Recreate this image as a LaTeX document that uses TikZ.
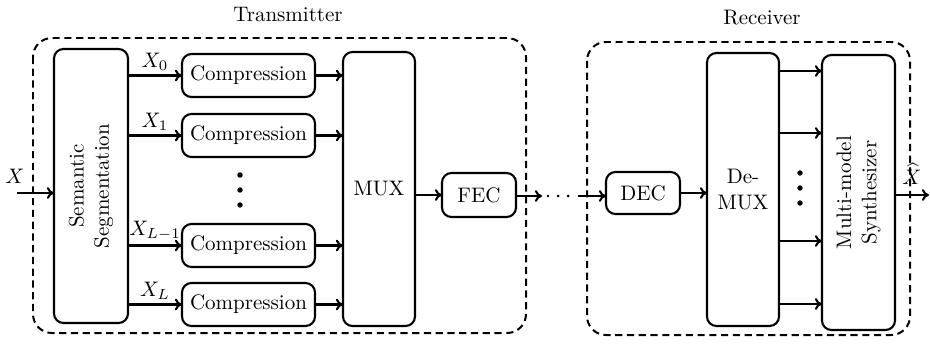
\documentclass[tikz,border=0pt]{standalone}
\usetikzlibrary{arrows.meta,calc}
\def\u{0.476pt}
\begin{document}
\begin{tikzpicture}[x=0.476pt,y=-0.476pt,
  every node/.style={inner sep=0pt, outer sep=0pt},
  blk/.style={draw, line width=1pt, rounded corners=4.5pt, align=center, font=\normalsize},
  grp/.style={draw, line width=0.95pt, dash pattern=on 3.4pt off 2.2pt, rounded corners=9pt},
  conn/.style={line width=1pt, -{To[length=3.4pt,width=5.6pt]}},
  dotc/.style={dash pattern=on 0pt off 4.8pt, line cap=round, line width=1.4pt},
  vdot/.style={fill, circle, minimum size=2.6pt}]
\useasboundingbox (0,0) rectangle (930,346);
% groups
\draw[grp] (33,38) rectangle (526,333);
\draw[grp] (587,42) rectangle (910,335);
\node (txt) at (288,15) {Transmitter};
\node (rxt) at (762,18) {Receiver};
% transmitter blocks
\node[blk, minimum width=74*\u, minimum height=274*\u] (seg) at (91,186) {};
\node[rotate=90, align=center] (segt) at (91,186) {Semantic\\Segmentation};
\foreach \i/\y in {0/75.5,1/135.5,2/245.5,3/304.5}{
  \node[blk, minimum width=133*\u, minimum height=43*\u] (c\i) at (248.5,\y) {Compression};
}
\node[blk, minimum width=72*\u, minimum height=274*\u] (mux) at (379,189) {MUX};
\node[blk, minimum width=74*\u, minimum height=44*\u] (fec) at (479,195) {FEC};
% receiver blocks
\node[blk, minimum width=74*\u, minimum height=42*\u] (dec) at (643,193) {DEC};
\node[blk, minimum width=72*\u, minimum height=273*\u] (demux) at (743,189.5) {De-\\MUX};
\node[blk, minimum width=73*\u, minimum height=275*\u] (syn) at (858.5,192.5) {};
\node[rotate=90, align=center] (synt) at (858.5,192.5) {Multi-model\\Synthesizer};
% input/output
\coordinate (xin) at (17,193);
\draw[conn] (xin) -- (seg.west |- xin);
\node (xl) at (15,176) {$X$};
\coordinate (xout) at (929,195);
\draw[conn] (syn.east |- xout) -- (xout);
\node (xh) at (912,174) {$\widehat{X}$};
% seg -> compression
\foreach \i/\l in {0/X_0,1/X_1,2/X_{L-1},3/X_L}{
  \draw[conn] (seg.east |- c\i) -- (c\i.west) node[midway, above=2.5pt] (xl\i) {$\l$};
  \draw[conn] (c\i.east) -- (mux.west |- c\i);
}
\draw[conn] (mux.east |- fec) -- (fec.west);
% channel
\coordinate (ch1) at (542,196);
\coordinate (ch2) at (578,196);
\coordinate (ch0) at (548,196);
\draw[conn] (fec.east |- ch1) -- (ch1);
\draw[dotc] (ch0) -- (ch2);
\draw[conn] (ch2) -- (dec.west |- ch2);
\draw[conn] (dec.east) -- (demux.west |- dec);
% demux -> synth
\foreach \y in {71,133,241,304}{
  \coordinate (d\y) at (0,\y);
  \draw[conn] (demux.east |- d\y) -- (syn.west |- d\y);
}
% dots
\foreach \y/\n in {175/a,190/b,205/c}{
  \node[vdot] (td\n) at (240,\y) {};
}
\foreach \y/\n in {173/a,188/b,203/c}{
  \node[vdot] (rd\n) at (800,\y) {};
}
\end{tikzpicture}
\end{document}
